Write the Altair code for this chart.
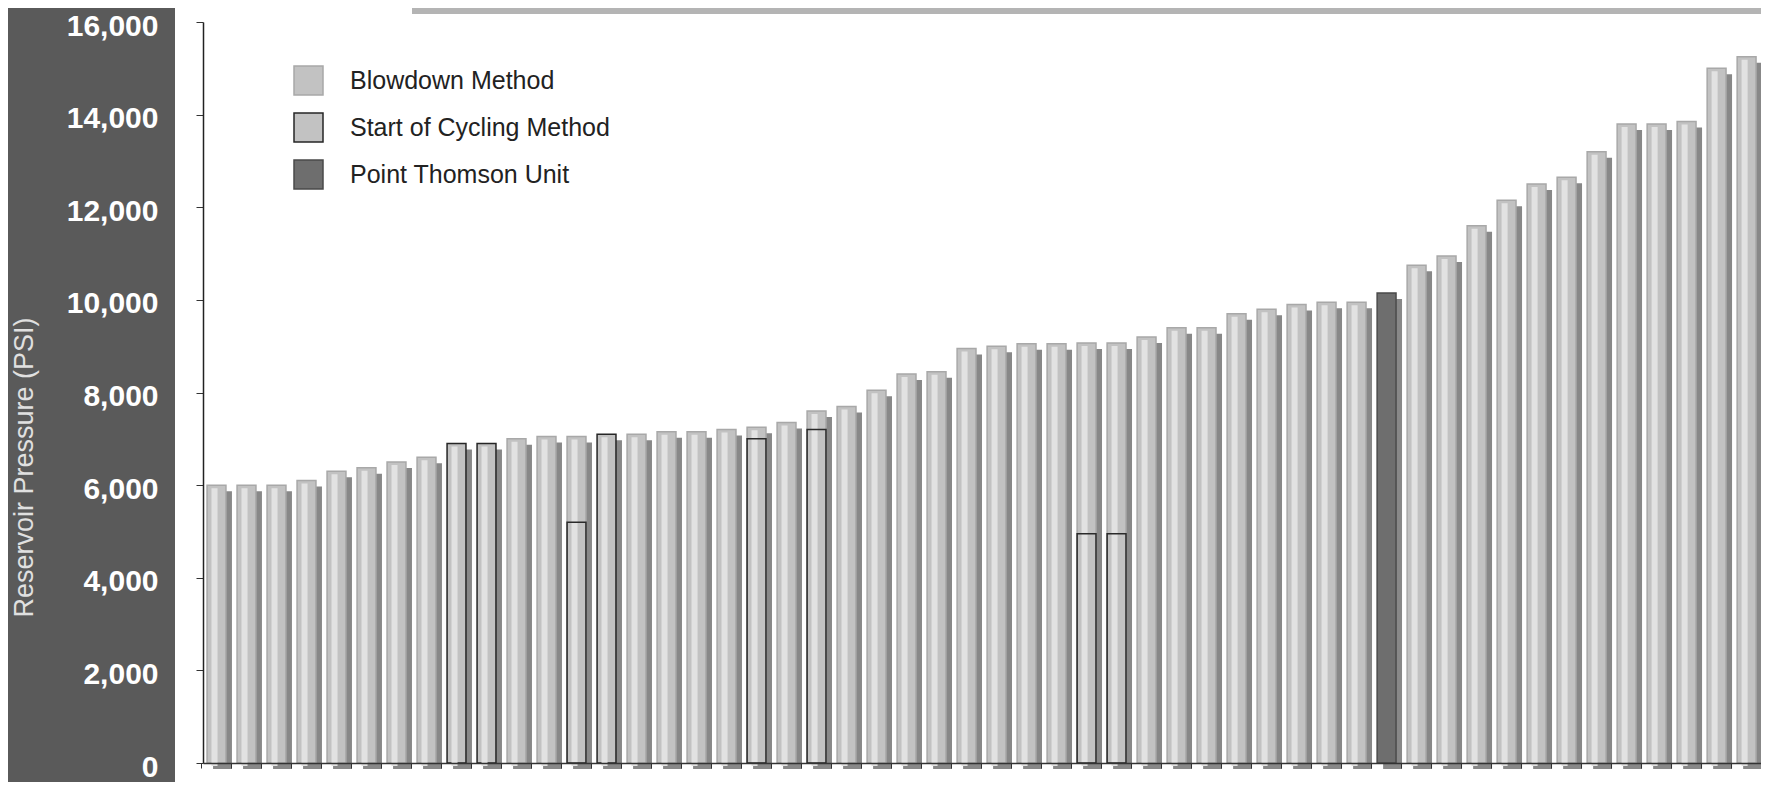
import altair as alt
import pandas as pd

# ---- data ----
pressure = [6000, 6000, 6000, 6100, 6300, 6375, 6500, 6600, 6900, 6900,
            7000, 7050, 7050, 7100, 7100, 7150, 7150, 7200, 7250, 7350,
            7600, 7700, 8050, 8400, 8450, 8950, 9000, 9050, 9050, 9070,
            9070, 9200, 9400, 9400, 9700, 9800, 9900, 9950, 9950, 10150,
            10750, 10950, 11600, 12150, 12500, 12650, 13200, 13800, 13800, 13850,
            15000, 15250]
categories = ["Blowdown Method", "Start of Cycling Method", "Point Thomson Unit"]
cycling_bars = [9, 10, 14]          # whole bar = start of cycling
thomson_bar = [40]                  # Point Thomson Unit
cycling_idx = [13, 19, 21, 30, 31]  # bars with a cycling start below the top
cycling_val = [5200, 7000, 7200, 4950, 4950]
y_ticks = [0, 2000, 4000, 6000, 8000, 10000, 12000, 14000, 16000]

bars = list(range(1, len(pressure) + 1))
types = []
for b in bars:
    if b in thomson_bar:
        types.append(categories[2])
    elif b in cycling_bars:
        types.append(categories[1])
    else:
        types.append(categories[0])

df = pd.DataFrame({"bar": bars, "pressure": pressure, "type": types})
df_cyc = pd.DataFrame({"bar": cycling_idx, "pressure": cycling_val})
one = pd.DataFrame({"a": [0]})

fills = ["#c2c2c2", "#c2c2c2", "#6e6e6e"]
strokes = ["#a8a8a8", "#262626", "#4a4a4a"]

x_enc = alt.X(
    "bar:O",
    scale=alt.Scale(domain=bars, paddingInner=0.37, paddingOuter=0.15, align=0.45),
    axis=alt.Axis(labels=False, title=None, ticks=True, tickSize=5, tickColor="#333333",
                  domainColor="#333333", domainWidth=1.5, bandPosition=-0.29, zindex=1),
)
y_enc = alt.Y(
    "pressure:Q",
    scale=alt.Scale(domain=[0, 16000], nice=False),
    axis=alt.Axis(values=y_ticks, format=",d", grid=False, title="Reservoir Pressure (PSI)",
                  labelColor="white", labelFont="Liberation Sans", labelFontWeight="bold",
                  labelFontSize=30, labelPadding=38, labelOffset=4,
                  tickSize=7, tickColor="#333333", domainColor="#222222", domainWidth=1.5,
                  titleColor="#e0e0e0", titleFont="Liberation Sans", titleFontWeight="normal",
                  titleFontSize=27, titleAngle=270, titleBaseline="middle", titleAlign="center",
                  titleX=-179, titleY=445, zindex=1),
)

panel = alt.Chart(one).mark_rect(color="white").encode(
    x=alt.value(-28), x2=alt.value(1600), y=alt.value(-20), y2=alt.value(800)
)
strip = alt.Chart(one).mark_rect(color="#b4b4b4").encode(
    x=alt.value(209), x2=alt.value(1600), y=alt.value(-20), y2=alt.value(-8)
)

shadow = alt.Chart(df).mark_bar(color="#6a6a6a", opacity=0.8, xOffset=6, yOffset=6,
                                y2Offset=6).encode(x=x_enc, y=y_enc)

legend = alt.Legend(title=None, orient="none", legendX=90, legendY=43, symbolType="square",
                    symbolSize=841, symbolStrokeWidth=1.5, labelFontSize=25,
                    labelFont="Liberation Sans", labelColor="#222222", labelOffset=26,
                    labelLimit=600, rowPadding=12, padding=0, symbolOpacity=1)

main = alt.Chart(df).mark_bar(strokeWidth=1.5).encode(
    x=x_enc, y=y_enc,
    color=alt.Color("type:N", scale=alt.Scale(domain=categories, range=fills), legend=legend),
    stroke=alt.Stroke("type:N", scale=alt.Scale(domain=categories, range=strokes), legend=legend),
)

highlight = alt.Chart(df).transform_filter(
    alt.datum.type != "Point Thomson Unit"
).mark_bar(width=alt.RelativeBandSize(0.32), xOffset=-2, yOffset=3, color="#e2e2e2").encode(
    x=x_enc, y=y_enc
)

cyc = alt.Chart(df_cyc).mark_bar(fillOpacity=0, stroke="#2a2a2a", strokeWidth=1.5).encode(
    x=x_enc, y=y_enc
)

chart = alt.layer(panel, strip, shadow, main, highlight, cyc).properties(
    width=1558, height=741,
    autosize=alt.AutoSizeParams(type="none"),
    padding={"left": 195, "top": 14, "right": 0, "bottom": 19},
).configure(background="#5a5a5a").configure_view(stroke="transparent")

chart.save("out.html", embed_options={"renderer": "svg", "actions": False})
